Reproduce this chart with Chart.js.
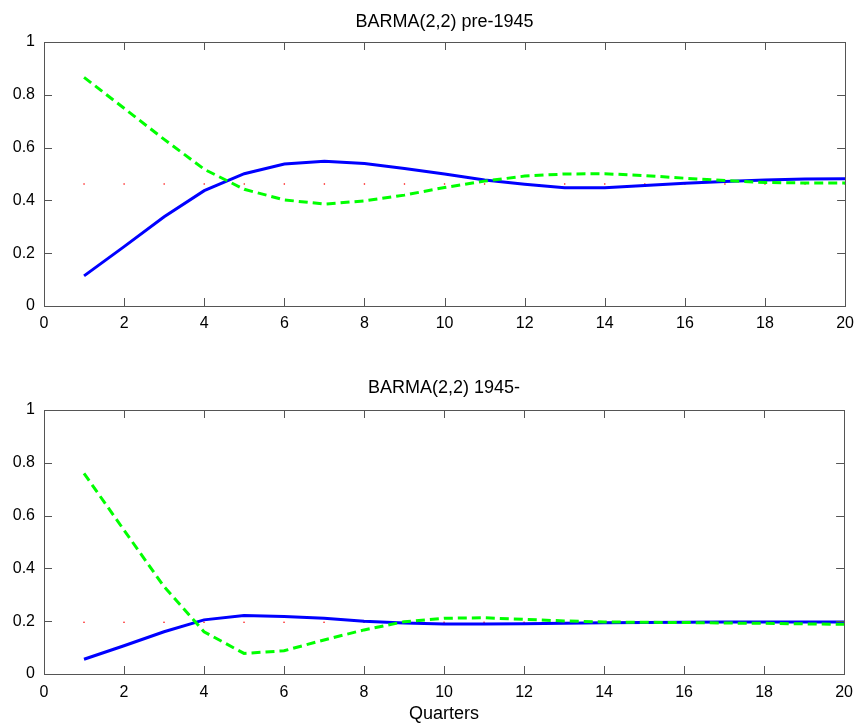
<!DOCTYPE html>
<html lang="en">
<head>
    <meta charset="UTF-8">
    <script src="https://cdn.jsdelivr.net/npm/chart.js@4.4.0/dist/chart.umd.min.js"></script>
    <style>
        body { margin: 0; background: #fff; overflow: hidden; }
        .panel { position: absolute; left: 0; }
    </style>
    <title>BARMA(2,2)</title>
</head>
<body>
<div class="panel" style="top:0"><canvas id="topChart" width="862" height="350"></canvas></div>
<div class="panel" style="top:350px"><canvas id="bottomChart" width="862" height="378"></canvas></div>
<script>
// data
const quarters = [1,2,3,4,5,6,7,8,9,10,11,12,13,14,15,16,17,18,19,20];

const preBlue  = [0.114,0.225,0.338,0.437,0.501,0.538,0.548,0.540,0.521,0.500,0.477,0.461,0.448,0.448,0.456,0.465,0.472,0.477,0.481,0.482];
const preGreen = [0.866,0.749,0.631,0.518,0.442,0.402,0.386,0.398,0.420,0.449,0.473,0.492,0.500,0.501,0.494,0.484,0.475,0.468,0.466,0.466];
const preMean  = [0.462,0.462,0.462,0.462,0.462,0.462,0.462,0.462,0.462,0.462,0.462,0.462,0.462,0.462,0.462,0.462,0.462,0.462,0.462,0.462];

const postBlue  = [0.056,0.107,0.160,0.205,0.222,0.218,0.211,0.200,0.193,0.189,0.189,0.190,0.192,0.194,0.195,0.196,0.197,0.197,0.197,0.197];
const postGreen = [0.760,0.545,0.331,0.160,0.078,0.088,0.129,0.167,0.198,0.211,0.213,0.207,0.201,0.197,0.196,0.195,0.193,0.192,0.190,0.188];
const postMean  = [0.196,0.196,0.196,0.196,0.196,0.196,0.196,0.196,0.196,0.196,0.196,0.196,0.196,0.196,0.196,0.196,0.196,0.196,0.196,0.196];

const xTicks = [0,2,4,6,8,10,12,14,16,18,20];
const yTicks = [0,0.2,0.4,0.6,0.8,1];

const FONT = '"Liberation Sans", Helvetica, Arial, sans-serif';

function pts(vals) {
    return quarters.map((q, i) => ({x: q, y: vals[i]}));
}

// matlab-ish box with inward ticks on all four sides
const boxPlugin = {
    id: 'matlabBox',
    afterDraw(chart) {
        const {ctx, chartArea: a, scales: {x, y}} = chart;
        ctx.save();
        ctx.strokeStyle = '#555';
        ctx.lineWidth = 1;
        ctx.strokeRect(Math.round(a.left) + 0.5, Math.round(a.top) + 0.5,
                       Math.round(a.right - a.left), Math.round(a.bottom - a.top));
        ctx.beginPath();
        x.ticks.forEach(t => {
            const px = Math.round(x.getPixelForValue(t.value)) + 0.5;
            ctx.moveTo(px, a.bottom); ctx.lineTo(px, a.bottom - 8);
            ctx.moveTo(px, a.top); ctx.lineTo(px, a.top + 8);
        });
        y.ticks.forEach(t => {
            const py = Math.round(y.getPixelForValue(t.value)) + 0.5;
            ctx.moveTo(a.left, py); ctx.lineTo(a.left + 8, py);
            ctx.moveTo(a.right, py); ctx.lineTo(a.right - 8, py);
        });
        ctx.stroke();
        ctx.restore();
    }
};

function makeChart(id, title, blue, green, mean, o) {
    return new Chart(document.getElementById(id), {
        type: 'line',
        data: {
            datasets: [{
                data: pts(green),
                borderColor: '#00ff00',
                borderWidth: 3,
                borderDash: [9, 5],
                pointRadius: 0,
                tension: 0
            }, {
                data: pts(blue),
                borderColor: '#0000ff',
                borderWidth: 3,
                pointRadius: 0,
                tension: 0
            }, {
                data: pts(mean),
                showLine: false,
                pointRadius: 0.8,
                pointBorderWidth: 0,
                pointBackgroundColor: '#ff0000'
            }]
        },
        options: {
            responsive: false,
            animation: false,
            devicePixelRatio: 1,
            layout: { padding: { left: 0, right: 16, top: 0, bottom: 0 } },
            plugins: {
                legend: { display: false },
                tooltip: { enabled: false },
                title: {
                    display: true,
                    text: title,
                    fullSize: false,
                    color: '#000',
                    font: { family: FONT, size: 18, weight: 'normal' },
                    padding: o.titlePad
                }
            },
            scales: {
                x: {
                    type: 'linear',
                    min: 0, max: 20,
                    afterBuildTicks: s => { s.ticks = xTicks.map(v => ({value: v})); },
                    afterFit: s => { s.height = o.xHeight; },
                    grid: { display: false, drawTicks: false },
                    border: { display: false },
                    ticks: { color: '#000', padding: o.xPad, maxRotation: 0, font: { family: FONT, size: 16 } },
                    title: {
                        display: !!o.xTitle,
                        text: o.xTitle || '',
                        color: '#000',
                        padding: { top: 0, bottom: 3 },
                        font: { family: FONT, size: 18 }
                    }
                },
                y: {
                    min: 0, max: 1,
                    afterBuildTicks: s => { s.ticks = yTicks.map(v => ({value: v})); },
                    afterFit: s => { s.width = 44; },
                    grid: { display: false, drawTicks: false },
                    border: { display: false },
                    ticks: {
                        color: '#000', padding: 9, font: { family: FONT, size: 16 },
                        callback: v => String(v)
                    }
                }
            }
        },
        plugins: [boxPlugin]
    });
}

makeChart('topChart', 'BARMA(2,2) pre-1945', preBlue, preGreen, preMean,
    { titlePad: { top: 10.9, bottom: 9.5 }, xHeight: 44, xPad: 8 });
makeChart('bottomChart', 'BARMA(2,2) 1945-', postBlue, postGreen, postMean,
    { titlePad: { top: 26.9, bottom: 11.5 }, xHeight: 54, xPad: 9, xTitle: 'Quarters' });
</script>
</body>
</html>
